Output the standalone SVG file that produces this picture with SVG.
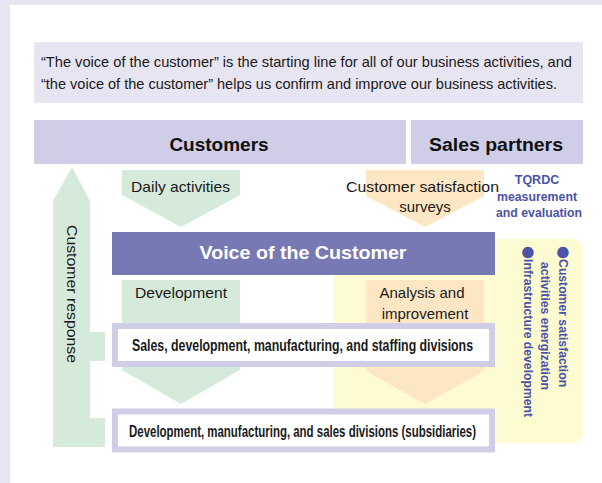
<svg xmlns="http://www.w3.org/2000/svg" width="602" height="483" viewBox="0 0 602 483">
<style>
.t{font-family:"Liberation Sans Narrow","Liberation Sans",Arial,sans-serif;fill:#1a1a1a}
.b{font-weight:bold}
.h{font-family:"Liberation Sans",Arial,sans-serif;font-weight:bold;font-size:19px;fill:#111}
.blue{font-family:"Liberation Sans Narrow","Liberation Sans",Arial,sans-serif;font-weight:bold;fill:#4a54a4}
.bul{font-family:"DejaVu Sans",sans-serif;font-size:15px}
.bar{fill:#d0cde6}
.grn{fill:#d5eadb}
.org{fill:#fde6c3}
.box{fill:#fff;stroke:#d0cde6;stroke-width:6}
</style>
<rect x="0" y="0" width="602" height="483" fill="#e7e5f1"/>
<rect x="10" y="5" width="592" height="478" fill="#fff"/>
<g id="intro">
<rect x="34" y="42" width="549" height="61" fill="#e7e5f1"/>
<text class="t" x="41" y="67" font-size="15" textLength="531" lengthAdjust="spacingAndGlyphs">“The voice of the customer” is the starting line for all of our business activities, and</text>
<text class="t" x="41" y="89" font-size="15" textLength="516" lengthAdjust="spacingAndGlyphs">“the voice of the customer” helps us confirm and improve our business activities.</text>
</g>
<g id="yellow-panel">
<rect x="334" y="239" width="249" height="204" rx="11" fill="#fefad2"/>
</g>
<g id="customers">
<rect class="bar" x="34" y="120" width="372" height="44"/>
<text class="h" x="219" y="151" text-anchor="middle">Customers</text>
</g>
<g id="sales-partners">
<rect class="bar" x="411" y="120" width="172" height="44"/>
<text class="h" x="496" y="151" text-anchor="middle" textLength="134" lengthAdjust="spacingAndGlyphs">Sales partners</text>
</g>
<g id="connectors">
<g id="customer-response">
<polygon class="grn" points="72,167 90,201 90,332 105,332 105,361 90,361 90,418 105,418 105,447 53,447 53,201"/>
<text class="t" font-size="15" transform="translate(67,225) rotate(90)" textLength="138" lengthAdjust="spacingAndGlyphs">Customer response</text>
</g>
<g id="daily-activities">
<polygon class="grn" points="122,170 240,170 240,195 181,227 122,195"/>
<text class="t" x="131" y="192" font-size="15" textLength="99" lengthAdjust="spacingAndGlyphs">Daily activities</text>
</g>
<g id="cs-surveys">
<polygon class="org" points="366,170 484,170 484,196 425,227 366,196"/>
<text class="t" x="346" y="192" font-size="15" textLength="153" lengthAdjust="spacingAndGlyphs">Customer satisfaction</text>
<text class="t" x="425" y="212" font-size="15" text-anchor="middle">surveys</text>
</g>
<g id="development">
<polygon class="grn" points="122,280 240,280 240,370 181,404 122,370"/>
<text class="t" x="135" y="298" font-size="15" textLength="92" lengthAdjust="spacingAndGlyphs">Development</text>
</g>
<g id="analysis">
<polygon class="org" points="366,280 484,280 484,371 425,404 366,371"/>
<text class="t" x="422" y="298" font-size="15" text-anchor="middle">Analysis and</text>
<text class="t" x="425" y="319" font-size="15" text-anchor="middle">improvement</text>
</g>
</g>
<g id="tqrdc">
<text class="blue" x="537" y="184" font-size="12.5" text-anchor="middle">TQRDC</text>
<text class="blue" x="537" y="201" font-size="12.5" text-anchor="middle" textLength="80" lengthAdjust="spacingAndGlyphs">measurement</text>
<text class="blue" x="539" y="217" font-size="12.5" text-anchor="middle" textLength="86" lengthAdjust="spacingAndGlyphs">and evaluation</text>
</g>
<g id="voice">
<rect x="112" y="232" width="383" height="43" fill="#7779b5"/>
<text x="303" y="259" font-family="Liberation Sans,Arial,sans-serif" font-weight="bold" font-size="19" fill="#fff" text-anchor="middle" textLength="207" lengthAdjust="spacingAndGlyphs">Voice of the Customer</text>
</g>
<g id="sales-divisions">
<rect class="box" x="115" y="326" width="377" height="38"/>
<text class="t b" x="132" y="350.5" font-size="16.5" textLength="341" lengthAdjust="spacingAndGlyphs">Sales, development, manufacturing, and staffing divisions</text>
</g>
<g id="subsidiaries">
<rect class="box" x="115" y="411.5" width="377" height="38"/>
<text class="t b" x="129" y="437" font-size="16.5" textLength="347" lengthAdjust="spacingAndGlyphs">Development, manufacturing, and sales divisions (subsidiaries)</text>
</g>
<g id="activities">
<text class="blue" font-size="13" transform="translate(559,246) rotate(90)"><tspan class="bul">●</tspan><tspan textLength="128" lengthAdjust="spacingAndGlyphs">Customer satisfaction</tspan></text>
<text class="blue" font-size="13" transform="translate(541,262) rotate(90)" textLength="128" lengthAdjust="spacingAndGlyphs">activities energization</text>
<text class="blue" font-size="13" transform="translate(524,246) rotate(90)"><tspan class="bul">●</tspan><tspan textLength="158" lengthAdjust="spacingAndGlyphs">Infrastructure development</tspan></text>
</g>
</svg>
